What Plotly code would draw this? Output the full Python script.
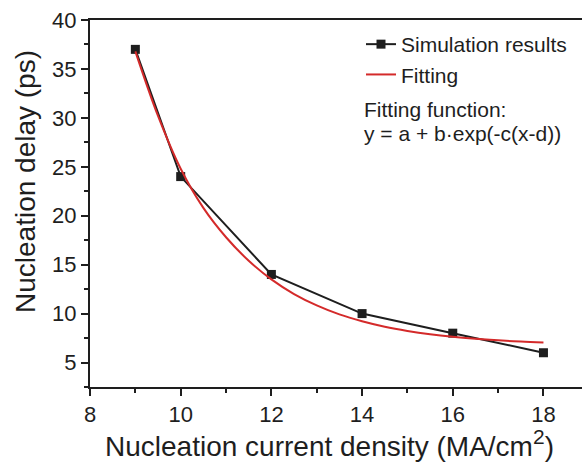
import plotly.graph_objects as go

sim_x = [9, 10, 12, 14, 16, 18]
sim_y = [37, 24, 14, 10, 8, 6]

fit_x = [9, 9.5, 10, 10.5, 11, 11.5, 12, 12.5, 13, 13.5, 14, 14.5, 15, 15.5, 16, 16.5, 17, 17.5, 18]
fit_y = [36.8, 30.2, 24.8, 20.8, 17.8, 15.4, 13.5, 12.0, 10.84, 9.92, 9.22, 8.66, 8.23, 7.89, 7.63, 7.43, 7.27, 7.14, 7.05]

x_ticks = [8, 10, 12, 14, 16, 18]
y_ticks = [5, 10, 15, 20, 25, 30, 35, 40]

FONT = "Liberation Sans, Arial, sans-serif"
INK = "#1e1e1e"

L, R, T, B = 90, 0, 20, 75
W, H = 582, 462
PW, PH = W - L - R, H - T - B


def px_x(p):
    return (p - L) / PW


def px_y(p):
    return (H - B - p) / PH


fig = go.Figure()
fig.add_trace(go.Scatter(x=sim_x, y=sim_y, mode="lines+markers", name="Simulation results",
                         line=dict(color=INK, width=2),
                         marker=dict(symbol="square", size=9, color=INK)))
fig.add_trace(go.Scatter(x=fit_x, y=fit_y, mode="lines", name="Fitting",
                         line=dict(color="#d42a2a", width=2, shape="spline")))

axis_common = dict(showgrid=False, zeroline=False, showline=True, linecolor=INK, linewidth=2,
                   ticks="outside", ticklen=7, tickwidth=2, tickcolor=INK, automargin=False,
                   tickfont=dict(family=FONT, size=22, color=INK))

fig.update_xaxes(range=[8, 18.85], tickvals=x_ticks, mirror=True,
                 minor=dict(dtick=1, tick0=8, ticks="outside", ticklen=4, tickwidth=2, tickcolor=INK),
                 **axis_common)
fig.update_yaxes(range=[2.5, 40], tickvals=y_ticks,
                 minor=dict(dtick=2.5, tick0=2.5, ticks="outside", ticklen=4, tickwidth=2, tickcolor=INK),
                 **axis_common)

# axis titles
fig.add_annotation(xref="paper", yref="paper", x=px_x(329), y=px_y(443),
                   xanchor="center", yanchor="middle", showarrow=False, borderpad=0,
                   text='Nucleation current density (MA/cm<sup><span style="font-size:21px">2</span></sup>)',
                   font=dict(family=FONT, size=28, color=INK))
fig.add_annotation(xref="paper", yref="paper", x=px_x(25), y=px_y(182),
                   xanchor="center", yanchor="middle", showarrow=False, textangle=-90,
                   text="Nucleation delay (ps)",
                   font=dict(family=FONT, size=28, color=INK))

# fitting-function note
fig.add_annotation(xref="paper", yref="paper", x=px_x(362), y=px_y(110),
                   xanchor="left", yanchor="middle", showarrow=False, align="left",
                   text="Fitting function:", font=dict(family=FONT, size=21, color=INK))
fig.add_annotation(xref="paper", yref="paper", x=px_x(362), y=px_y(133),
                   xanchor="left", yanchor="middle", showarrow=False, align="left",
                   text="y = a + b·exp(-c(x-d))", font=dict(family=FONT, size=21, color=INK))

fig.update_layout(
    width=W, height=H,
    margin=dict(l=L, r=R, t=T, b=B),
    plot_bgcolor="white", paper_bgcolor="white",
    legend=dict(x=px_x(361), y=px_y(24), xanchor="left", yanchor="top",
                font=dict(family=FONT, size=21, color=INK), bgcolor="rgba(0,0,0,0)",
                tracegroupgap=0, itemwidth=30),
    font=dict(family=FONT),
)

fig.write_html("out.html", config={"displayModeBar": False},
               post_script="document.body.style.margin='0';document.body.style.overflow='hidden';")
